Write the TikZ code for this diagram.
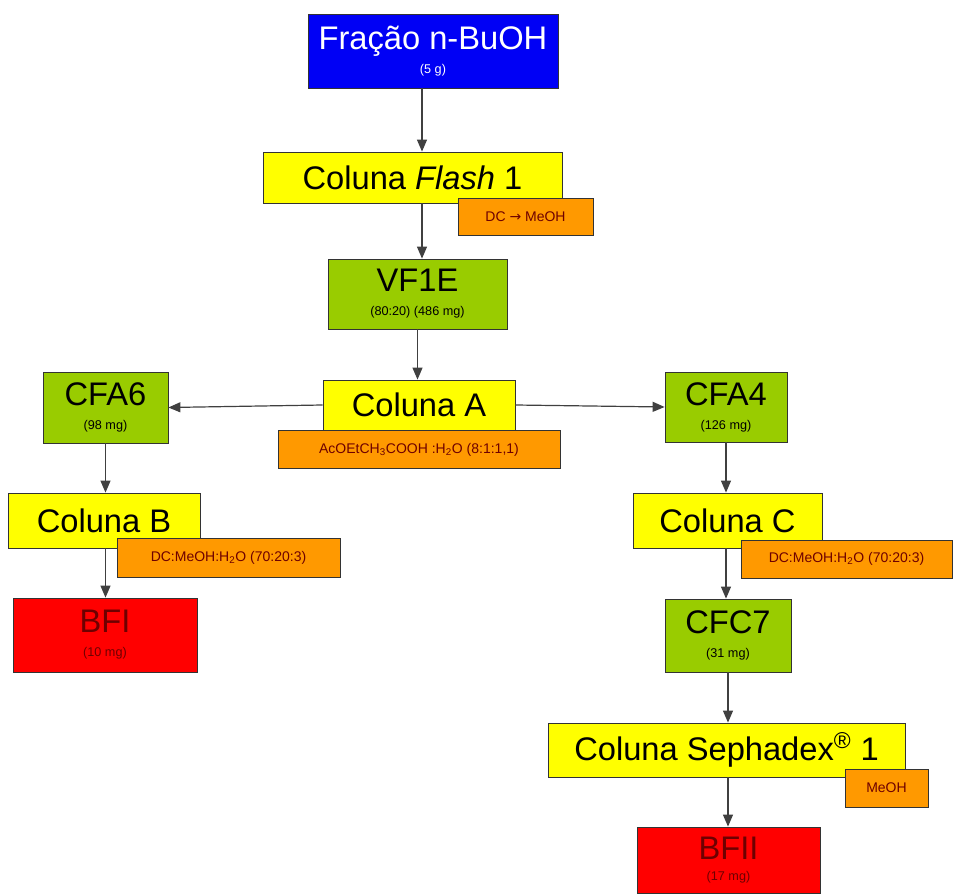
\documentclass[tikz,border=0pt]{standalone}
\usepackage{fontspec}
\setmainfont{Liberation Sans}
\newfontfamily\symfont{DejaVu Sans}
\usetikzlibrary{arrows.meta,positioning}

\definecolor{boxblue}{RGB}{0,0,245}
\definecolor{boxyellow}{RGB}{255,255,0}
\definecolor{boxgreen}{RGB}{153,204,0}
\definecolor{boxorange}{RGB}{255,153,0}
\definecolor{boxred}{RGB}{255,0,0}
\definecolor{darkred}{RGB}{110,0,0}

\newcommand{\mainlbl}[1]{{\fontsize{24.5}{26}\selectfont #1}}
\newcommand{\sublbl}[1]{{\fontsize{9.5}{11}\selectfont #1}}
\newcommand{\solvlbl}[1]{{\fontsize{10.5}{12}\selectfont #1}}

\begin{document}
\begin{tikzpicture}[x=0.75pt, y=-0.75pt, node distance=0pt,
    box/.style = {draw=black!80, line width=0.6pt, inner sep=0pt, align=center},
    blue/.style = {box, fill=boxblue, text=white},
    yellow/.style = {box, fill=boxyellow, text=black},
    green/.style = {box, fill=boxgreen, text=black},
    red/.style = {box, fill=boxred, text=darkred},
    solvent/.style = {box, fill=boxorange, text=darkred},
    arr/.style = {-{Triangle[length=9pt,width=7.5pt]}, line width=0.9pt, color=black!75}]
\useasboundingbox (0,0) rectangle (954,895);
    \node[blue, minimum width=187.5pt, minimum height=55.5pt] (fracao) at (433,51)
      {\mainlbl{Fração n-BuOH}\\[5pt]\sublbl{(5 g)}};
\node[yellow, minimum width=224.25pt, minimum height=38.25pt] (flash) at (412.5,177.5)
      {\mainlbl{Coluna \textit{Flash} 1}};
\node[solvent, minimum width=101.25pt, minimum height=27.75pt] (dc1) at (525.5,216.5)
      {\solvlbl{DC {\symfont →} MeOH}};
\node[green, minimum width=134.25pt, minimum height=52.5pt] (vf1e) at (417.5,294)
      {\mainlbl{VF1E}\\[6pt]\sublbl{(80:20) (486 mg)}};
\node[yellow, minimum width=144pt, minimum height=37.5pt] (colA) at (419,405)
      {\mainlbl{Coluna A}};
\node[solvent, minimum width=211.5pt, minimum height=28.5pt, below=of colA] (solvA)
      {\solvlbl{AcOEtCH\textsubscript{3}COOH :H\textsubscript{2}O (8:1:1,1)}};
\node[green, minimum width=93.75pt, minimum height=53.25pt] (cfa6) at (105.5,407.5)
      {\mainlbl{CFA6}\\[6pt]\sublbl{(98 mg)}};
\node[green, minimum width=91.5pt, minimum height=52.5pt] (cfa4) at (726,407)
      {\mainlbl{CFA4}\\[6pt]\sublbl{(126 mg)}};
\node[yellow, minimum width=144pt, minimum height=41.25pt] (colB) at (104,520.5)
      {\mainlbl{Coluna B}};
\node[solvent, minimum width=167.25pt, minimum height=29.25pt] (solvB) at (228.5,557.5)
      {\solvlbl{DC:MeOH:H\textsubscript{2}O (70:20:3)}};
\node[yellow, minimum width=141.75pt, minimum height=41.25pt] (colC) at (727.5,520.5)
      {\mainlbl{Coluna C}};
\node[solvent, minimum width=158.25pt, minimum height=28.5pt] (solvC) at (846.5,559)
      {\solvlbl{DC:MeOH:H\textsubscript{2}O (70:20:3)}};
\node[red, minimum width=138pt, minimum height=55.5pt] (bfi) at (105,635)
      {\mainlbl{BFI}\\[6pt]\sublbl{(10 mg)}};
\node[green, minimum width=94.5pt, minimum height=54.75pt] (cfc7) at (728,635.5)
      {\mainlbl{CFC7}\\[6pt]\sublbl{(31 mg)}};
\node[yellow, minimum width=267.75pt, minimum height=40.5pt] (seph) at (726.5,750)
      {\mainlbl{Coluna Sephadex\textsuperscript{\textregistered} 1}};
\node[solvent, minimum width=62.25pt, minimum height=28.5pt] (solvS) at (886.5,788)
      {\solvlbl{MeOH}};
\node[red, minimum width=137.25pt, minimum height=49.5pt] (bfii) at (728.5,860)
      {\mainlbl{BFII}\\[4pt]\sublbl{(17 mg)}};
\coordinate (spine) at (422,0);
    \path[arr]
(fracao.south -| spine) edge (flash.north -| spine)
(flash.south -| spine) edge (vf1e.north -| spine)
(vf1e.south) edge (colA.north -| vf1e.south)
(colA.west) edge (cfa6.east)
(colA.east) edge (cfa4.west)
(cfa6.south) edge (colB.north -| cfa6.south)
(colB.south -| cfa6.south) edge (bfi.north -| cfa6.south)
(cfa4.south) edge (colC.north -| cfa4.south)
(colC.south -| cfa4.south) edge (cfc7.north -| cfa4.south)
(cfc7.south) edge (seph.north -| cfc7.south)
(seph.south -| cfc7.south) edge (bfii.north -| cfc7.south);
\end{tikzpicture}
\end{document}
